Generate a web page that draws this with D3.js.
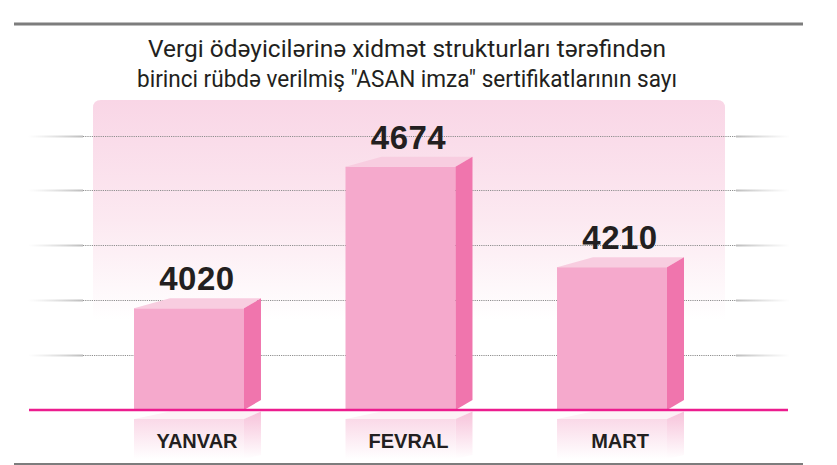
<!DOCTYPE html>
<html>
<head>
<meta charset="utf-8">
<script src="https://cdn.jsdelivr.net/npm/d3@7"></script>
<style>
  html, body { margin: 0; padding: 0; background: #fff; }
  svg { display: block; }
</style>
</head>
<body>
<div id="chart"></div>
<script>
// data
var categories = ["YANVAR", "FEVRAL", "MART"];
var values = [4020, 4674, 4210];
var titleLines = [
    "Vergi ödəyicilərinə xidmət strukturları tərəfindən",
    "birinci rübdə verilmiş \"ASAN imza\" sertifikatlarının sayı"
];
var gridSteps = [1, 2, 3, 4, 5];

function drawChart() {
    var width = 837;
    var height = 465;
    var baseY = 410;
    var depthX = 17, depthY = 10, backShift = 36;
    var ink = "#231f20";
    var titleWidths = [518, 540];

    var svg = d3.select("#chart")
        .append("svg")
        .attr("width", width)
        .attr("height", height);

    var defs = svg.append("defs");

    var panelGrad = defs.append("linearGradient")
        .attr("id", "panelGrad").attr("x1", 0).attr("y1", 0).attr("x2", 0).attr("y2", 1);
    panelGrad.append("stop").attr("offset", "0%").attr("stop-color", "#f9d6e6");
    panelGrad.append("stop").attr("offset", "55%").attr("stop-color", "#fce9f1");
    panelGrad.append("stop").attr("offset", "100%").attr("stop-color", "#ffffff");

    var refGrad = defs.append("linearGradient")
        .attr("id", "refGrad").attr("x1", 0).attr("y1", 0).attr("x2", 0).attr("y2", 1);
    refGrad.append("stop").attr("offset", "0%").attr("stop-color", "#fad9e8");
    refGrad.append("stop").attr("offset", "100%").attr("stop-color", "#ffffff");

    var refSideGrad = defs.append("linearGradient")
        .attr("id", "refSideGrad").attr("x1", 0).attr("y1", 0).attr("x2", 0).attr("y2", 1);
    refSideGrad.append("stop").attr("offset", "0%").attr("stop-color", "#f7c2da");
    refSideGrad.append("stop").attr("offset", "100%").attr("stop-color", "#ffffff");

    var fadeL = defs.append("linearGradient").attr("id", "fadeL");
    fadeL.append("stop").attr("offset", "0%").attr("stop-color", "#d0d0d0").attr("stop-opacity", 0);
    fadeL.append("stop").attr("offset", "100%").attr("stop-color", "#bdbdbd").attr("stop-opacity", 1);
    var fadeR = defs.append("linearGradient").attr("id", "fadeR");
    fadeR.append("stop").attr("offset", "0%").attr("stop-color", "#bdbdbd").attr("stop-opacity", 1);
    fadeR.append("stop").attr("offset", "100%").attr("stop-color", "#d0d0d0").attr("stop-opacity", 0);

    var x = d3.scaleBand()
        .domain(categories)
        .range([134, 667])
        .paddingInner(0.48)
        .paddingOuter(0);

    var y = d3.scaleLinear()
        .domain([3550, 4700])
        .range([baseY, 161.1]);

    var gy = d3.scaleLinear().domain([0, 5]).range([baseY, 135.5]);

    var bw = x.bandwidth();

    // pink panel behind the bars
    svg.append("path")
        .attr("d", "M93,320 V108 Q93,100 101,100 H717 Q725,100 725,108 V320 Z")
        .attr("fill", "url(#panelGrad)");

    // grid lines
    var grid = svg.append("g");
    gridSteps.forEach(function (s) {
        var yy = Math.round(gy(s)) + 0.5;
        grid.append("line")
            .attr("x1", 83).attr("x2", 736).attr("y1", yy).attr("y2", yy)
            .attr("stroke", "#8f8f8f").attr("stroke-width", 1)
            .attr("stroke-dasharray", "1.2,1");
        grid.append("rect")
            .attr("x", 28).attr("y", yy - 1).attr("width", 55).attr("height", 2)
            .attr("fill", "url(#fadeL)");
        grid.append("rect")
            .attr("x", 736).attr("y", yy - 1).attr("width", 54).attr("height", 2)
            .attr("fill", "url(#fadeR)");
    });

    // bars
    var bars = svg.selectAll(".bar")
        .data(values)
        .enter()
        .append("g")
        .attr("class", "bar");

    bars.append("rect")
        .attr("x", (d, i) => x(categories[i]))
        .attr("y", (d) => y(d))
        .attr("width", bw)
        .attr("height", (d) => baseY - y(d))
        .attr("fill", "#f5a9cc");

    bars.append("path")
        .attr("fill", "#f8cde0")
        .attr("d", function (d, i) {
            var x0 = x(categories[i]), yt = y(d);
            return "M" + x0 + "," + yt +
                " L" + (x0 + backShift) + "," + (yt - depthY) +
                " L" + (x0 + bw + depthX) + "," + (yt - depthY) +
                " L" + (x0 + bw) + "," + yt + " Z";
        });

    bars.append("path")
        .attr("fill", "#f075ad")
        .attr("d", function (d, i) {
            var x0 = x(categories[i]), yt = y(d);
            return "M" + (x0 + bw) + "," + yt +
                " L" + (x0 + bw + depthX) + "," + (yt - depthY) +
                " L" + (x0 + bw + depthX) + "," + (baseY - depthY) +
                " L" + (x0 + bw) + "," + baseY + " Z";
        });

    // value labels
    bars.append("text")
        .attr("x", (d, i) => x(categories[i]) + bw / 2 + 8)
        .attr("y", (d) => y(d) - 18)
        .attr("text-anchor", "middle")
        .attr("font-family", "'Liberation Sans', Arial, sans-serif")
        .attr("font-weight", "bold")
        .attr("font-size", 33)
        .attr("letter-spacing", 0.5)
        .attr("fill", ink)
        .text((d) => d);

    // reflections under the baseline
    var refl = svg.selectAll(".refl")
        .data(categories)
        .enter()
        .append("g")
        .attr("class", "refl");

    refl.append("rect")
        .attr("x", (d) => x(d))
        .attr("y", 419)
        .attr("width", bw)
        .attr("height", 40)
        .attr("fill", "url(#refGrad)");

    refl.append("path")
        .attr("fill", "#fdf1f6")
        .attr("d", function (d) {
            var x0 = x(d);
            return "M" + x0 + ",419 L" + (x0 + backShift) + ",411.5 L" +
                (x0 + bw + depthX) + ",411.5 L" + (x0 + bw) + ",419 Z";
        });

    refl.append("path")
        .attr("fill", "url(#refSideGrad)")
        .attr("d", function (d) {
            var x0 = x(d);
            return "M" + (x0 + bw) + ",419 L" + (x0 + bw + depthX) + ",411.5 L" +
                (x0 + bw + depthX) + ",455 L" + (x0 + bw) + ",459 Z";
        });

    refl.append("text")
        .attr("x", (d) => x(d) + bw / 2 + 8)
        .attr("y", 448)
        .attr("text-anchor", "middle")
        .attr("font-family", "'Liberation Sans', Arial, sans-serif")
        .attr("font-weight", "bold")
        .attr("font-size", 20)
        .attr("fill", ink)
        .text((d) => d);

    // baseline
    svg.append("line")
        .attr("x1", 29).attr("x2", 788).attr("y1", baseY).attr("y2", baseY)
        .attr("stroke", "#ec1c8e").attr("stroke-width", 2.5);

    // top and bottom rules
    svg.append("line")
        .attr("x1", 14).attr("x2", 803).attr("y1", 24).attr("y2", 24)
        .attr("stroke", "#7d7d7d").attr("stroke-width", 3);
    svg.append("line")
        .attr("x1", 14).attr("x2", 803).attr("y1", 464).attr("y2", 464)
        .attr("stroke", "#7d7d7d").attr("stroke-width", 2);

    // title
    svg.selectAll(".title")
        .data(titleLines)
        .enter()
        .append("text")
        .attr("class", "title")
        .attr("x", 407)
        .attr("y", (d, i) => 57 + i * 30)
        .attr("text-anchor", "middle")
        .attr("font-family", "Roboto, sans-serif")
        .attr("font-size", 24.5)
        .attr("textLength", (d, i) => titleWidths[i])
        .attr("lengthAdjust", "spacingAndGlyphs")
        .attr("fill", ink)
        .text((d) => d);
}

drawChart();
</script>
</body>
</html>
